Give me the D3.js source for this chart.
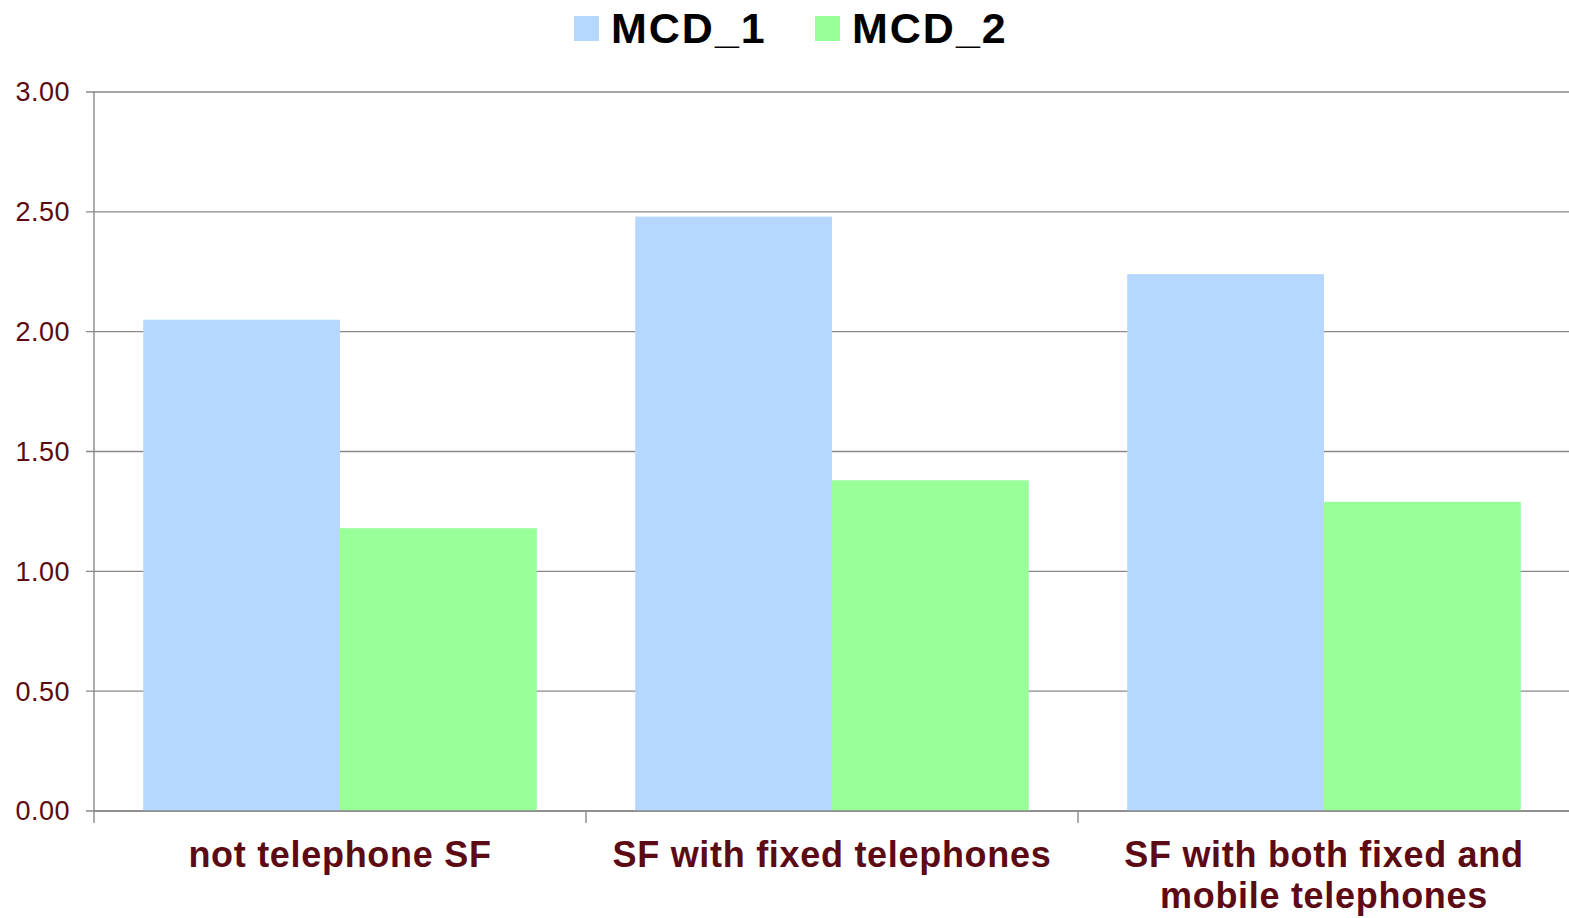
<!doctype html>
<html>
<head>
<meta charset="utf-8">
<script src="https://cdn.jsdelivr.net/npm/d3@7"></script>
<style>
  html, body { margin: 0; padding: 0; background: #fff; }
  svg { display: block; font-family: "Liberation Sans", Arial, sans-serif; }
</style>
</head>
<body>
<script>
const categories = ["not telephone SF", "SF with fixed telephones", "SF with both fixed and mobile telephones"];
const categoryLines = [["not telephone SF"], ["SF with fixed telephones"], ["SF with both fixed and", "mobile telephones"]];
const series = ["MCD_1", "MCD_2"];
const mcd1 = [2.05, 2.48, 2.24];
const mcd2 = [1.18, 1.38, 1.29];
const yTicks = [0, 0.5, 1, 1.5, 2, 2.5, 3];

const width = 1569, height = 918;
const margin = {top: 92, right: -1, bottom: 107, left: 94};
const colors = ["#b6d8fe", "#99ff99"];
const labelColor = "#5c0a14";

const rows = categories.map((c, i) => ({cat: c, values: [mcd1[i], mcd2[i]]}));

const svg = d3.select("body").append("svg")
    .attr("width", width)
    .attr("height", height);

const x0 = d3.scaleBand()
    .domain(categories)
    .range([margin.left, width - margin.right])
    .paddingInner(0.2)
    .paddingOuter(0.1);

const x1 = d3.scaleBand()
    .domain(series)
    .range([0, x0.bandwidth()]);

const y = d3.scaleLinear()
    .domain([0, 3])
    .range([height - margin.bottom, margin.top]);

// gridlines
svg.append("g")
    .selectAll("line")
    .data(yTicks)
    .join("line")
    .attr("x1", margin.left - 8)
    .attr("x2", width)
    .attr("y1", (d) => y(d))
    .attr("y2", (d) => y(d))
    .attr("stroke", "#888")
    .attr("stroke-width", 1.4);

// y labels
svg.append("g")
    .selectAll("text")
    .data(yTicks)
    .join("text")
    .attr("x", 70)
    .attr("y", (d) => y(d))
    .attr("dy", "0.35em")
    .attr("text-anchor", "end")
    .attr("fill", labelColor)
    .attr("font-size", 27)
    .attr("letter-spacing", 0.5)
    .text((d) => d3.format(".2f")(d));

// bars
svg.append("g")
    .selectAll("g")
    .data(rows)
    .join("g")
    .attr("transform", (d) => `translate(${x0(d.cat)},0)`)
    .selectAll("rect")
    .data((d) => d.values.map((v, i) => ({key: series[i], value: v, i})))
    .join("rect")
    .attr("x", (d) => x1(d.key))
    .attr("y", (d) => y(d.value))
    .attr("width", x1.bandwidth())
    .attr("height", (d) => y(0) - y(d.value))
    .attr("fill", (d) => colors[d.i]);

// axes lines
const step = x0.step();
svg.append("line")
    .attr("x1", margin.left).attr("x2", margin.left)
    .attr("y1", y(3)).attr("y2", y(0) + 12)
    .attr("stroke", "#888").attr("stroke-width", 1.4);

svg.append("line")
    .attr("x1", margin.left).attr("x2", width)
    .attr("y1", y(0)).attr("y2", y(0))
    .attr("stroke", "#888").attr("stroke-width", 1.6);

svg.append("g")
    .selectAll("line")
    .data(categories.slice(1))
    .join("line")
    .attr("x1", (d) => x0(d) - step * x0.paddingInner() / 2)
    .attr("x2", (d) => x0(d) - step * x0.paddingInner() / 2)
    .attr("y1", y(0))
    .attr("y2", y(0) + 12)
    .attr("stroke", "#888")
    .attr("stroke-width", 1.4);

// category labels
svg.append("g")
    .selectAll("text")
    .data(categories)
    .join("text")
    .attr("x", (d) => x0(d) + x0.bandwidth() / 2)
    .attr("y", 867)
    .attr("text-anchor", "middle")
    .attr("fill", labelColor)
    .attr("font-size", 36)
    .attr("letter-spacing", 0.7)
    .attr("font-weight", "bold")
    .selectAll("tspan")
    .data((d, i) => categoryLines[i])
    .join("tspan")
    .attr("x", function () { return this.parentNode.getAttribute("x"); })
    .attr("dy", (d, i) => i === 0 ? 0 : 41)
    .text((d) => d);

// legend
const legendX = [574, 815];
const legend = svg.append("g")
    .selectAll("g")
    .data(series)
    .join("g")
    .attr("transform", (d, i) => `translate(${legendX[i]},16)`);

legend.append("rect")
    .attr("width", 25)
    .attr("height", 25)
    .attr("fill", (d, i) => colors[i]);

legend.append("text")
    .attr("x", 37)
    .attr("y", 27)
    .attr("fill", "#000")
    .attr("font-size", 43)
    .attr("letter-spacing", 2)
    .attr("font-weight", "bold")
    .text((d) => d);
</script>
</body>
</html>
